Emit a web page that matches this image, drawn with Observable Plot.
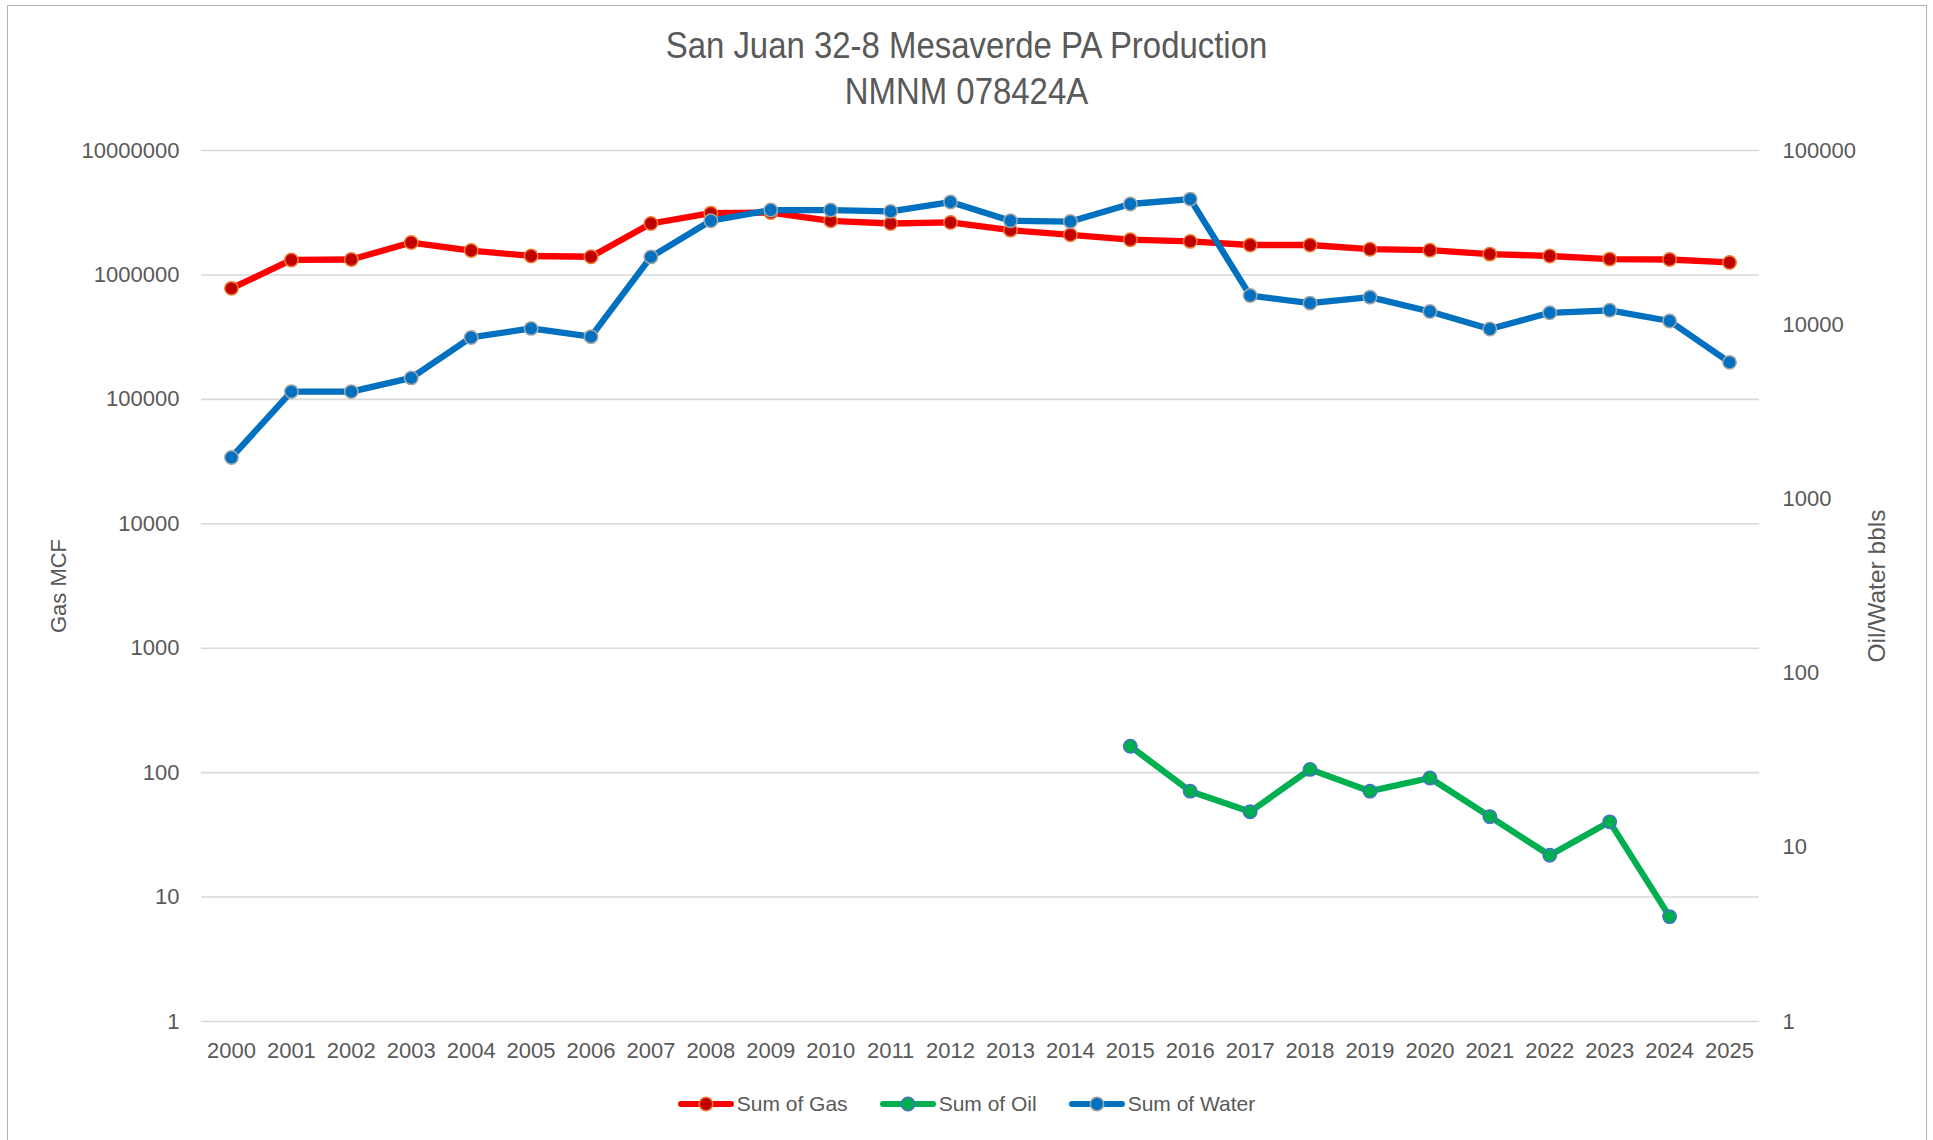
<!DOCTYPE html>
<html>
<head>
<meta charset="utf-8">
<script src="https://cdn.jsdelivr.net/npm/d3@7"></script>
<script src="https://cdn.jsdelivr.net/npm/@observablehq/plot@0.6"></script>
<style>
  html, body { margin: 0; padding: 0; background: #ffffff; }
  body { width: 1933px; height: 1140px; position: relative; overflow: hidden;
         font-family: "Liberation Sans", Arial, sans-serif; color: #595959; }
  #frame { position: absolute; left: 7px; top: 5px; width: 1920px; height: 1160px;
           border: 1.5px solid #b4b4b4; box-sizing: border-box; }
  #title { position: absolute; left: 0; top: 23px; width: 1933px; text-align: center;
           font-size: 37px; line-height: 46px; color: #595959;
           transform: scaleX(0.89); transform-origin: 966.5px 0; }
  #chart { position: absolute; left: 0; top: 120px; }
  #legend { position: absolute; left: 0; top: 1088px; width: 1933px; height: 32px;
            display: flex; justify-content: center; align-items: center; gap: 32px;
            font-size: 21px; color: #595959; }
  .item { display: flex; align-items: center; gap: 3px; }
</style>
</head>
<body>
<div id="frame"></div>
<div id="title">San Juan 32-8 Mesaverde PA Production<br>NMNM 078424A</div>
<div id="chart"></div>
<div id="legend"></div>
<script>
// ---- data ----
const years = [2000, 2001, 2002, 2003, 2004, 2005, 2006, 2007, 2008, 2009, 2010, 2011, 2012,
               2013, 2014, 2015, 2016, 2017, 2018, 2019, 2020, 2021, 2022, 2023, 2024, 2025];
const gas = [780000, 1320000, 1330000, 1820000, 1570000, 1420000, 1400000, 2590000, 3140000,
             3170000, 2720000, 2590000, 2640000, 2290000, 2100000, 1920000, 1860000, 1740000,
             1740000, 1610000, 1580000, 1470000, 1420000, 1340000, 1330000, 1260000];
const oil = [null, null, null, null, null, null, null, null, null, null, null, null, null,
             null, null, 38, 21, 16, 28, 21, 25, 15, 9, 14, 4, null];
const water = [1730, 4130, 4130, 4950, 8450, 9520, 8540, 24500, 39500, 45500, 45500, 44700,
               50600, 39500, 39100, 49300, 52600, 14700, 13300, 14400, 11900, 9450, 11700,
               12100, 10500, 6080];
const leftTicks = [1, 10, 100, 1000, 10000, 100000, 1000000, 10000000];
const rightTicks = [1, 10, 100, 1000, 10000, 100000];
const seriesNames = ["Sum of Gas", "Sum of Oil", "Sum of Water"];
const lineColors = ["#ff0000", "#00b050", "#0070c0"];
const dotFills = ["#c00000", "#00b050", "#0070c0"];
const dotStrokes = ["#ed7d31", "#4472c4", "#a5a5a5"];

// secondary axis (1 .. 1e5) mapped onto the primary log axis (1 .. 1e7)
const toLeft = v => Math.pow(v, 7 / 5);

const rows = years.map((year, i) => ({year, gas: gas[i], oil: oil[i], water: water[i]}));
const oilRows = rows.filter(d => d.oil != null);

const plot = Plot.plot({
  width: 1933,
  height: 960,
  marginTop: 30,
  marginBottom: 59,
  marginLeft: 201,
  marginRight: 174,
  style: {fontFamily: '"Liberation Sans", Arial, sans-serif', fontSize: "22px",
          color: "#595959", background: "transparent", overflow: "visible"},
  x: {type: "point", domain: years, padding: 0.5, round: false},
  y: {type: "log", domain: [1, 1e7]},
  marks: [
    Plot.ruleY(leftTicks, {stroke: "#d9d9d9", strokeWidth: 1.6}),
    Plot.axisY({anchor: "left", ticks: leftTicks, tickFormat: d => String(d), tickSize: 0,
                tickPadding: 22, fontSize: 22, label: null}),
    // secondary (right) axis labels, positioned through the y scale
    Plot.text(rightTicks, {y: d => toLeft(d), text: d => String(d), frameAnchor: "right",
              dx: 23, textAnchor: "start", fontSize: 22, fill: "#595959"}),
    Plot.axisX({tickSize: 0, tickPadding: 21, tickFormat: d => String(d), fontSize: 22, label: null}),
    Plot.text(["Gas MCF"], {frameAnchor: "left", dx: -143, rotate: -90, lineAnchor: "middle",
              textAnchor: "middle", fontSize: 22, fill: "#595959"}),
    Plot.text(["Oil/Water bbls"], {frameAnchor: "right", dx: 118, rotate: -90, lineAnchor: "middle",
              textAnchor: "middle", fontSize: 24.5, fill: "#595959"}),
    Plot.line(rows, {x: "year", y: "gas", stroke: lineColors[0], strokeWidth: 6.3}),
    Plot.dot(rows, {x: "year", y: "gas", r: 6.7, fill: dotFills[0], stroke: dotStrokes[0], strokeWidth: 1.5}),
    Plot.line(oilRows, {x: "year", y: d => toLeft(d.oil), stroke: lineColors[1], strokeWidth: 6.3}),
    Plot.dot(oilRows, {x: "year", y: d => toLeft(d.oil), r: 6.7, fill: dotFills[1], stroke: dotStrokes[1], strokeWidth: 1.5}),
    Plot.line(rows, {x: "year", y: d => toLeft(d.water), stroke: lineColors[2], strokeWidth: 6.3}),
    Plot.dot(rows, {x: "year", y: d => toLeft(d.water), r: 6.7, fill: dotFills[2], stroke: dotStrokes[2], strokeWidth: 1.5})
  ]
});
document.getElementById("chart").appendChild(plot);

// legend
const legend = document.getElementById("legend");
seriesNames.forEach((name, i) => {
  const item = document.createElement("div");
  item.className = "item";
  item.innerHTML =
    `<svg width="56" height="18"><line x1="3" x2="53" y1="9" y2="9" stroke="${lineColors[i]}" stroke-width="6" stroke-linecap="round"/>` +
    `<circle cx="28" cy="9" r="6.7" fill="${dotFills[i]}" stroke="${dotStrokes[i]}" stroke-width="1.5"/></svg>` +
    `<span>${name}</span>`;
  legend.appendChild(item);
});
</script>
</body>
</html>
